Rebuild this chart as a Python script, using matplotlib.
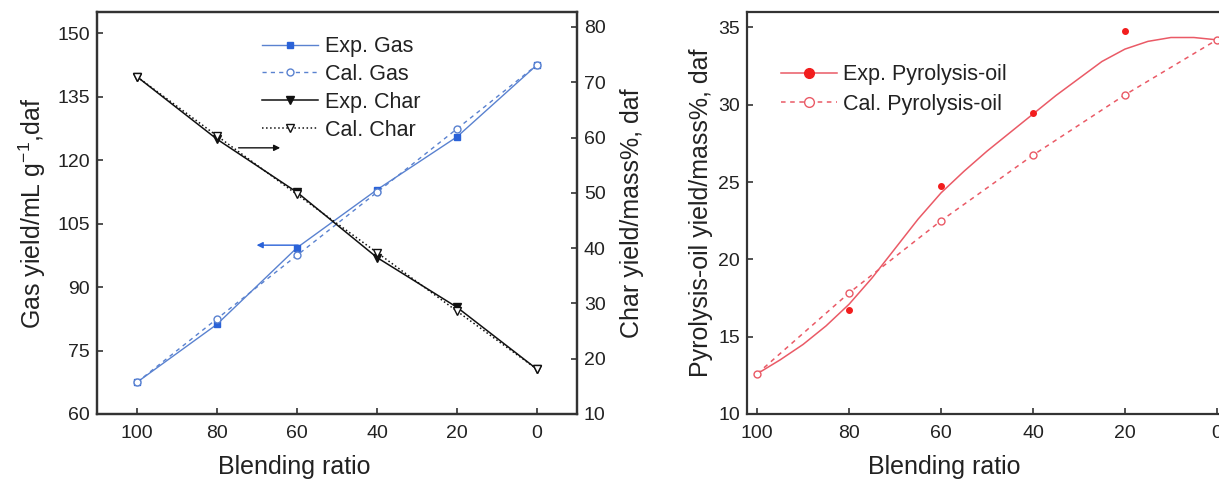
import matplotlib

matplotlib.use("Agg")
import matplotlib.pyplot as plt

plt.rcParams["font.family"] = ["Liberation Sans", "DejaVu Sans"]
plt.rcParams["mathtext.default"] = "regular"

# blending ratio of the mixture, %
ratio = [100, 80, 60, 40, 20, 0]

# gas yield, mL/g daf (left axis)
exp_gas = [67.5, 81.2, 99.3, 113.0, 125.5, 142.5]
cal_gas = [67.5, 82.5, 97.5, 112.4, 127.4, 142.5]

# char yield, mass% daf (right axis)
exp_char = [71.0, 59.7, 50.1, 38.3, 29.3, 18.1]
cal_char = [71.0, 60.3, 49.7, 39.2, 28.6, 18.1]

# pyrolysis-oil yield, mass% daf
exp_oil = [12.58, 16.72, 24.76, 29.48, 34.74, 34.18]
cal_oil = [12.6, 17.83, 22.5, 26.74, 30.64, 34.2]

# smoothed trend line through the experimental oil yields
fit_ratio = [100, 95, 90, 85, 80, 75, 70, 65, 60, 55, 50,
             45, 40, 35, 30, 25, 20, 15, 10, 5, 0]
fit_oil = [12.6, 13.5, 14.5, 15.7, 17.1, 18.8, 20.7, 22.6, 24.3, 25.7, 27.0,
           28.2, 29.4, 30.6, 31.7, 32.8, 33.6, 34.1, 34.35, 34.35, 34.2]

BLUE = "#2a62d8"
BLUE_LINE = "#5a82d0"
RED = "#f21d1d"
RED_LINE = "#ea5a66"
SPINE = "#333333"
TXT = "#222222"
FS = 14
LABEL_FS = 18
LEGEND_FS = 15.5

fig = plt.figure(figsize=(12.19, 4.82), dpi=100)
fig.patch.set_facecolor("white")


def style_axes(ax):
    for sp in ax.spines.values():
        sp.set_color(SPINE)
        sp.set_linewidth(1.6)
    ax.tick_params(direction="in", length=4, width=1.2, labelsize=FS,
                   colors=SPINE, labelcolor=TXT, pad=5)


# ---- gas / char panel ----
ax1 = fig.add_axes([97 / 1219, 68 / 482, 480 / 1219, 402 / 482])
ax2 = ax1.twinx()

l1, = ax1.plot(ratio, exp_gas, "-", color=BLUE_LINE, lw=1.0, marker="s",
               ms=4.5, mfc=BLUE, mec=BLUE, label="Exp. Gas")
l2, = ax1.plot(ratio, cal_gas, "--", color=BLUE_LINE, lw=1.0, marker="o",
               ms=5, mfc="white", mec=BLUE_LINE, dashes=(3, 3), label="Cal. Gas")
l3, = ax2.plot(ratio, exp_char, "-", color="#111111", lw=1.1, marker="v",
               ms=5.5, mfc="#111111", mec="#111111", label="Exp. Char")
l4, = ax2.plot(ratio, cal_char, ":", color="#111111", lw=1.1, marker="v",
               ms=5.5, mfc="white", mec="#111111", label="Cal. Char")

ax1.set_xlim(110, -10)
ax1.set_ylim(60, 155)
ax2.set_ylim(10, 82.7)
ax1.set_xticks(ratio)
ax1.set_yticks([60, 75, 90, 105, 120, 135, 150])
ax2.set_yticks([10, 20, 30, 40, 50, 60, 70, 80])
style_axes(ax1)
style_axes(ax2)
ax1.tick_params(axis="x", pad=8)

ax1.set_xlabel("Blending ratio", fontsize=LABEL_FS, color=TXT)
ax1.xaxis.set_label_coords(0.41, -0.102)
ax1.set_ylabel(r"Gas yield/mL g$^{-1}$,daf", fontsize=LABEL_FS, color=TXT,
               labelpad=7)
ax2.set_ylabel("Char yield/mass%, daf", fontsize=LABEL_FS, color=TXT,
               labelpad=10)

# arrows pointing each series to its own axis
ax1.annotate("", xy=(64.2, 122.9), xytext=(74.6, 122.9),
             arrowprops=dict(arrowstyle="-|>", color="#111111", lw=1.0,
                             mutation_scale=9, shrinkA=0, shrinkB=0))
ax1.annotate("", xy=(70.1, 99.9), xytext=(59.7, 99.9),
             arrowprops=dict(arrowstyle="-|>", color=BLUE, lw=1.0,
                             mutation_scale=9, shrinkA=0, shrinkB=0))

ax1.legend(handles=[l1, l2, l3, l4], loc="upper left",
           bbox_to_anchor=(0.344, 0.94), frameon=False, fontsize=LEGEND_FS,
           handlelength=2.6, handletextpad=0.3, labelspacing=0.32,
           borderpad=0, borderaxespad=0, labelcolor=TXT)

# ---- pyrolysis-oil panel ----
ax3 = fig.add_axes([747 / 1219, 68 / 482, 480 / 1219, 402 / 482])

ax3.plot(fit_ratio, fit_oil, "-", color=RED_LINE, lw=1.1)
ax3.plot(ratio, exp_oil, "o", color=RED, ms=4)
ax3.plot(ratio, cal_oil, "--", color=RED_LINE, lw=1.1, dashes=(3, 3),
         marker="o", ms=5, mfc="white", mec=RED_LINE)

h_exp, = ax3.plot([], [], "-", color=RED_LINE, lw=1.1, marker="o", ms=7,
                  mfc=RED, mec=RED, label="Exp. Pyrolysis-oil")
h_cal, = ax3.plot([], [], "--", color=RED_LINE, lw=1.1, dashes=(3, 3),
                  marker="o", ms=7, mfc="white", mec=RED_LINE,
                  label="Cal. Pyrolysis-oil")

ax3.set_xlim(102.2, -2.2)
ax3.set_ylim(10, 36)
ax3.set_xticks(ratio)
ax3.set_yticks([10, 15, 20, 25, 30, 35])
style_axes(ax3)
ax3.tick_params(axis="x", pad=8)
ax3.set_xlabel("Blending ratio", fontsize=LABEL_FS, color=TXT)
ax3.xaxis.set_label_coords(0.41, -0.102)
ax3.set_ylabel("Pyrolysis-oil yield/mass%, daf", fontsize=LABEL_FS, color=TXT,
               labelpad=4)

ax3.legend(handles=[h_exp, h_cal], loc="upper left",
           bbox_to_anchor=(0.07, 0.87), frameon=False, fontsize=LEGEND_FS,
           handlelength=2.6, handletextpad=0.3, labelspacing=0.4,
           borderpad=0, borderaxespad=0, labelcolor=TXT)

fig.savefig("out.png", dpi=100, facecolor="white")
plt.close(fig)
